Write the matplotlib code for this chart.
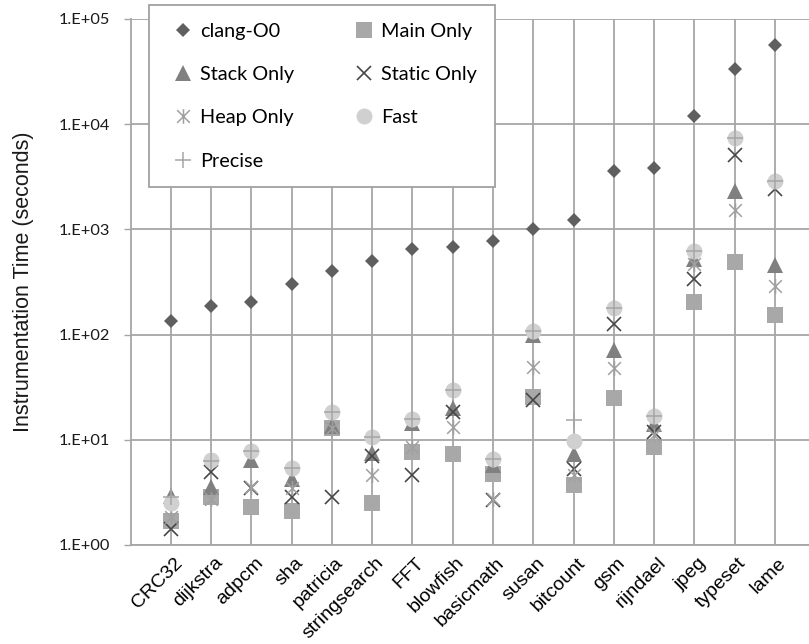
import numpy as np
import matplotlib
matplotlib.use("Agg")
import matplotlib.pyplot as plt
from matplotlib.path import Path
from matplotlib.transforms import ScaledTranslation

categories = ['CRC32', 'dijkstra', 'adpcm', 'sha', 'patricia', 'stringsearch', 'FFT',
              'blowfish', 'basicmath', 'susan', 'bitcount', 'gsm', 'rijndael', 'jpeg',
              'typeset', 'lame']

clang_o0 = [135, 188, 203, 300, 400, 500, 650, 680, 780, 1000, 1220, 3600, 3800, 11900, 33800, 57000]
main_only = [1.70, 2.85, 2.28, 2.10, 12.9, 2.49, 7.7, 7.4, 4.7, 25.3, 3.69, 24.8, 8.57, 204, 495, 154]
stack_only = [2.9, 3.58, 6.43, 4.21, 13.5, 7.43, 14.5, 19.9, 5.73, 100, 7.28, 72, 14, 520, 2340, 457]
static_only = [1.42, 4.91, 3.5, 2.88, 2.88, 7.02, 4.63, 18.5, 2.65, 24, 5.33, 125, 11.9, 336, 5150, 2420]
heap_only = [1.86, 2.75, 3.53, 3.46, 12.9, 4.63, 8.6, 13.3, 2.75, 49, 4.6, 48, 11.1, 467, 1528, 290]
fast = [2.52, 6.43, 7.83, 5.36, 18.5, 10.7, 15.7, 29.7, 6.53, 108, 9.77, 180, 16.8, 626, 7430, 2866]
precise = [2.85, 6.3, 7.8, 5.36, 18.5, 10.7, 15.7, 29.7, 6.53, 108, 15.4, 180, 16.8, 626, 7430, 2866]

ytick_vals = [1, 10, 100, 1000, 10000, 100000]
ytick_labels = ['1.E+00', '1.E+01', '1.E+02', '1.E+03', '1.E+04', '1.E+05']

W, H = 809, 644
fig = plt.figure(figsize=(W / 100, H / 100), dpi=100)
left_px, right_px, top_px, bot_px = 130.5, 809, 19, 545
ax = fig.add_axes([left_px / W, 1 - bot_px / H, (right_px - left_px) / W, (bot_px - top_px) / H])

x = np.arange(len(categories))
grid_c = '#a6a6a6'

# asterisk marker (Excel star)
star = Path([(-1, -1), (1, 1), (-1, 1), (1, -1), (0, -1.15), (0, 1.15)],
            [Path.MOVETO, Path.LINETO, Path.MOVETO, Path.LINETO, Path.MOVETO, Path.LINETO])

series = [
    ('clang-O0', clang_o0, dict(marker='D', ms=7.6, color='#5f5f5f', mew=0)),
    ('Main Only', main_only, dict(marker='s', ms=11, color='#a8a8a8', mew=0)),
    ('Stack Only', stack_only, dict(marker='^', ms=11, color='#808080', mew=0)),
    ('Static Only', static_only, dict(marker='x', ms=10, color='#474747', mew=1.2)),
    ('Heap Only', heap_only, dict(marker=star, ms=10.5, color='#a0a0a0', mew=1.1)),
    ('Fast', fast, dict(marker='o', ms=11.5, color='#d0d0d0', mew=0)),
    ('Precise', precise, dict(marker='+', ms=11, color='#a6a6a6', mew=1.1)),
]
handles = {}
for i, (name, vals, kw) in enumerate(series):
    h, = ax.plot(x, vals, linestyle='none', label=name, zorder=3 + i, clip_on=False, **kw)
    handles[name] = h

ax.set_yscale('log')
ax.set_ylim(1, 100000)
ax.set_xlim(-1, (809 - 170.3) / 40.31)

ax.set_yticks(ytick_vals)
ax.set_yticklabels(ytick_labels, fontfamily='Lato', fontsize=11.8, color='#1a1a1a')
ax.yaxis.set_minor_locator(matplotlib.ticker.NullLocator())
ax.tick_params(axis='y', which='major', length=5, width=1, color=grid_c, pad=10)

ax.set_xticks(x)
ax.set_xticklabels(categories, rotation=45, ha='right', va='center', rotation_mode='anchor',
                   fontfamily='Liberation Sans', fontsize=14)
ax.tick_params(axis='x', length=0, pad=11)
offset = ScaledTranslation(9 / 100, 0, fig.dpi_scale_trans)
for lab in ax.get_xticklabels():
    lab.set_transform(lab.get_transform() + offset)

ax.grid(True, which='major', axis='both', color=grid_c, linewidth=1.3, zorder=0)
ax.set_axisbelow(True)
for s in ['top', 'right']:
    ax.spines[s].set_visible(False)
for s in ['left', 'bottom']:
    ax.spines[s].set_color(grid_c)
    ax.spines[s].set_linewidth(1.3)

fig.text(24 / W, 1 - 282 / H, 'Instrumentation Time (seconds)', rotation=90,
         ha='center', va='center', fontfamily='Liberation Sans', fontsize=15.5, color='#1a1a1a')

order = ['clang-O0', 'Stack Only', 'Heap Only', 'Precise', 'Main Only', 'Static Only', 'Fast']
leg = fig.legend([handles[n] for n in order], order, ncol=2, loc='upper left',
                 bbox_to_anchor=(149 / W, 1 - 5 / H), frameon=True, fancybox=False,
                 prop={'family': 'Lato', 'size': 14.3}, handlelength=1.6, handletextpad=0.05,
                 columnspacing=2.75, labelspacing=1.32, borderpad=0.9, borderaxespad=0)
leg.get_frame().set_edgecolor('#a0a0a0')
leg.get_frame().set_linewidth(1.3)
leg.get_frame().set_facecolor('white')
leg.get_frame().set_alpha(1)
leg.set_zorder(20)

fig.savefig('out.png', dpi=100)
